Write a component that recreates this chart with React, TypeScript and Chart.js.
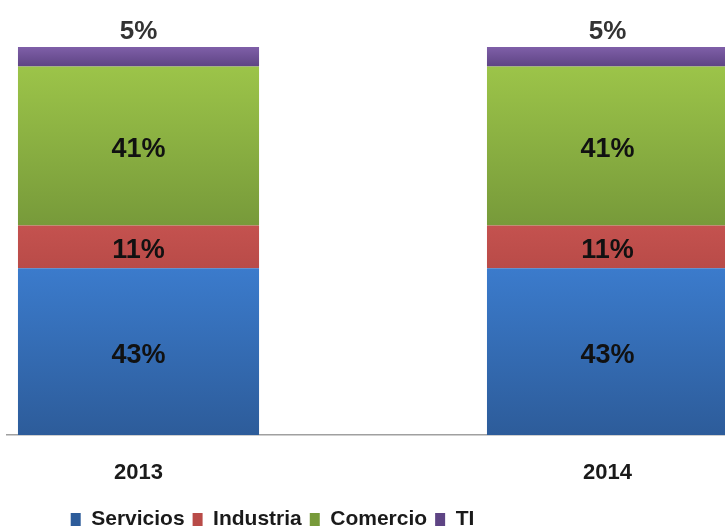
import React, { useEffect, useRef } from "react";
import { Chart, registerables } from "chart.js";

Chart.register(...registerables);

const categories = ["2013", "2014"];
const seriesNames = ["Servicios", "Industria", "Comercio", "TI"];
const servicios = [43, 43];
const industria = [11, 11];
const comercio = [41, 41];
const ti = [5, 5];
const seriesValues = [servicios, industria, comercio, ti];

const gradTop = ["#3b7bcc", "#c4524f", "#9cc449", "#7f5fa8"];
const gradBottom = ["#2d5c9a", "#b94b48", "#779a3a", "#5e4484"];
const legendColors = ["#3a74c2", "#c0504d", "#8db643", "#7357a0"];

const SANS = '"Liberation Sans", Arial, sans-serif';

const makeBg = (si: number) => (ctx: any) => {
  if (ctx.type !== "data") return legendColors[si];
  const chart = ctx.chart;
  const y = chart.scales && chart.scales.y;
  if (!chart.chartArea || !y) return gradTop[si];
  let base = 0;
  for (let k = 0; k < si; k++) base += seriesValues[k][ctx.dataIndex];
  const top = base + seriesValues[si][ctx.dataIndex];
  const pTop = y.getPixelForValue(top);
  const pBot = y.getPixelForValue(base);
  if (!isFinite(pTop) || !isFinite(pBot) || pTop === pBot) return gradTop[si];
  const g = chart.ctx.createLinearGradient(0, pTop, 0, pBot);
  g.addColorStop(0, gradTop[si]);
  g.addColorStop(1, gradBottom[si]);
  return g;
};

const labelPlugin = {
  id: "segLabels",
  afterDatasetsDraw(chart: any) {
    const ctx = chart.ctx;
    ctx.save();
    ctx.textAlign = "center";
    ctx.textBaseline = "middle";
    const n = chart.data.datasets.length;
    chart.data.datasets.forEach((ds: any, di: number) => {
      const meta = chart.getDatasetMeta(di);
      meta.data.forEach((el: any, i: number) => {
        const { x, y, base } = el.getProps(["x", "y", "base"], true);
        const txt = ds.data[i].y + "%";
        if (di === n - 1) {
          ctx.font = "bold 26px " + SANS;
          ctx.fillStyle = "#333333";
          ctx.fillText(txt, x, y - 15);
        } else {
          ctx.font = "bold 27px " + SANS;
          ctx.fillStyle = "#111111";
          ctx.fillText(txt, x, (y + base) / 2 + 4);
        }
      });
    });
    ctx.restore();
  },
};

export default function App() {
  const ref = useRef<HTMLCanvasElement>(null);
  useEffect(() => {
    if (!ref.current) return;
    const chart = new Chart(ref.current, {
      type: "bar",
      data: {
        datasets: seriesNames.map((name, si) => ({
          label: name,
          data: categories.map((c, i) => ({ x: Number(c), y: seriesValues[si][i] })),
          backgroundColor: makeBg(si),
          borderWidth: 0,
          categoryPercentage: 1,
          barPercentage: 0.514,
        })),
      },
      options: {
        responsive: false,
        animation: false,
        devicePixelRatio: 1,
        layout: { padding: { top: 47, left: 0, right: 0, bottom: 0 } },
        plugins: {
          legend: {
            position: "bottom",
            labels: {
              boxWidth: 10,
              boxHeight: 13,
              padding: 8,
              color: "#1a1a1a",
              font: { family: SANS, size: 21, weight: "bold" },
            },
          },
          tooltip: { enabled: false },
        },
        scales: {
          x: {
            type: "linear",
            stacked: true,
            min: 2012.7196,
            max: 2014.2505,
            offset: false,
            grid: { display: false, drawTicks: false },
            border: { display: true, color: "#a0a0a0", width: 1.5 },
            afterBuildTicks: (s: any) => {
              s.ticks = categories.map((c) => ({ value: Number(c) }));
            },
            afterFit: (s: any) => {
              s.height = 66;
            },
            ticks: {
              padding: 25,
              color: "#1a1a1a",
              font: { family: SANS, size: 22, weight: "bold" },
              callback: (v: any) => String(v),
              autoSkip: false,
              maxRotation: 0,
            },
          },
          y: {
            stacked: true,
            min: 0,
            max: 100,
            grid: { display: false, drawTicks: false },
            border: { display: false },
            ticks: { display: false },
            afterFit: (s: any) => {
              s.width = 187;
            },
          },
        },
      },
      plugins: [labelPlugin],
    } as any);
    return () => chart.destroy();
  }, []);
  return (
    <div
      style={{
        position: "absolute",
        left: 0,
        top: 0,
        width: 725,
        height: 531,
        overflow: "hidden",
        background: "#ffffff",
      }}
    >
      <canvas
        ref={ref}
        width={905}
        height={540}
        style={{ position: "absolute", left: -180, top: 0, width: 905, height: 540 }}
      />
    </div>
  );
}
